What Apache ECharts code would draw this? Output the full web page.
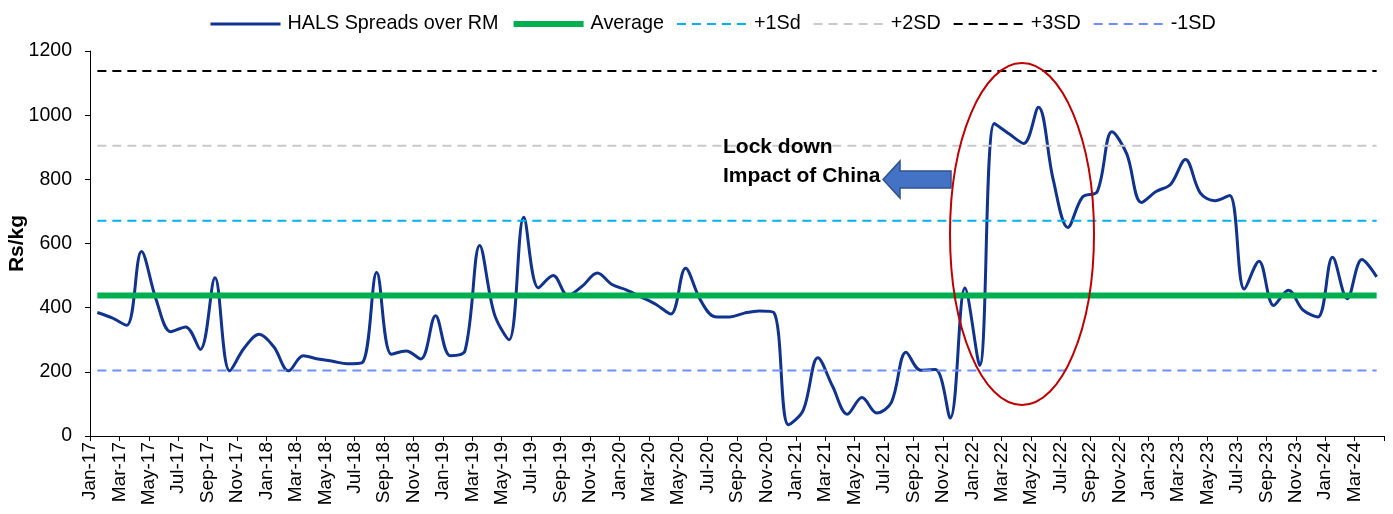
<!DOCTYPE html>
<html>
<head>
<meta charset="utf-8">
<script src="https://cdn.jsdelivr.net/npm/echarts@6/dist/echarts.min.js"></script>
<style>
html,body{margin:0;padding:0;background:#fff;}
#chart{width:1393px;height:514px;}
</style>
</head>
<body>
<div id="chart"></div>
<script>
// Month categories (Jan-17 .. Apr-24)
const months = [
 'Jan-17','Feb-17','Mar-17','Apr-17','May-17','Jun-17','Jul-17','Aug-17','Sep-17','Oct-17','Nov-17','Dec-17',
 'Jan-18','Feb-18','Mar-18','Apr-18','May-18','Jun-18','Jul-18','Aug-18','Sep-18','Oct-18','Nov-18','Dec-18',
 'Jan-19','Feb-19','Mar-19','Apr-19','May-19','Jun-19','Jul-19','Aug-19','Sep-19','Oct-19','Nov-19','Dec-19',
 'Jan-20','Feb-20','Mar-20','Apr-20','May-20','Jun-20','Jul-20','Aug-20','Sep-20','Oct-20','Nov-20','Dec-20',
 'Jan-21','Feb-21','Mar-21','Apr-21','May-21','Jun-21','Jul-21','Aug-21','Sep-21','Oct-21','Nov-21','Dec-21',
 'Jan-22','Feb-22','Mar-22','Apr-22','May-22','Jun-22','Jul-22','Aug-22','Sep-22','Oct-22','Nov-22','Dec-22',
 'Jan-23','Feb-23','Mar-23','Apr-23','May-23','Jun-23','Jul-23','Aug-23','Sep-23','Oct-23','Nov-23','Dec-23',
 'Jan-24','Feb-24','Mar-24','Apr-24'
];

// HALS Spreads over RM (Rs/kg)
const halsSpread = [
 385, 368, 345, 575, 425, 325, 340, 270, 493, 203, 275, 317,
 278, 203, 250, 240, 233, 225, 228, 510, 255, 265, 240, 375,
 250, 265, 594, 380, 300, 682, 462, 500, 438, 468, 508, 472,
 455, 433, 410, 380, 523, 425, 372, 371, 383, 390, 385, 35,
 80, 244, 155, 68, 120, 72, 105, 261, 205, 207, 56, 461,
 220, 974, 942, 912, 1025, 800, 650, 745, 762, 948, 880, 728,
 762, 785, 862, 758, 733, 750, 458, 545, 407, 454, 392, 371,
 557, 428, 550, 496
];

// Reference levels
const averageLevel = 437.6;
const plus1SD = 671;
const plus2SD = 904.5;
const plus3SD = 1138;
const minus1SD = 204.2;

const seriesNames = ['HALS Spreads over RM','Average','+1Sd','+2SD','+3SD','-1SD'];
const legendWidths = [3, 6, 2, 2, 2, 2];

// build [x, y] pairs: point i sits in the middle of month slot i
const halsData = halsSpread.map((v, i) => [i + 0.5, v]);
const flat = v => [[0.5, v], [months.length - 0.5, v]];

const chart = echarts.init(document.getElementById('chart'), null, {renderer: 'canvas'});
const FONT = 'Liberation Sans, Arial, sans-serif';

function dashed(name, level, color) {
  return {
    name: name, type: 'line', data: flat(level), symbol: 'none', silent: true,
    lineStyle: {color: color, width: 2, type: [9, 6]},
    itemStyle: {color: color}
  };
}

const option = {
  backgroundColor: '#ffffff',
  animation: false,
  textStyle: {fontFamily: FONT, color: '#000'},
  legend: {
    data: seriesNames.map((n, i) => ({name: n, lineStyle: {width: legendWidths[i]}})),
    top: 9,
    left: 204,
    itemWidth: 70,
    itemHeight: 14,
    itemGap: 12,
    itemStyle: {opacity: 0},
    textStyle: {fontSize: 19.8, color: '#000', fontFamily: FONT, padding: [0, 0, 0, 2]}
  },
  grid: {left: 90, right: 9, top: 51, bottom: 78, containLabel: false, outerBoundsMode: 'none'},
  xAxis: {
    type: 'value',
    min: 0,
    max: months.length,
    interval: 2,
    axisLine: {show: true, onZero: false, lineStyle: {color: '#000', width: 1}},
    axisTick: {show: true, inside: false, length: 5, lineStyle: {color: '#000'}},
    splitLine: {show: false},
    axisLabel: {
      rotate: 90,
      margin: 6,
      fontSize: 19,
      color: '#000',
      fontFamily: FONT,
      formatter: v => months[v] || ''
    }
  },
  yAxis: {
    type: 'value',
    min: 0,
    max: 1200,
    interval: 200,
    name: 'Rs/kg',
    nameLocation: 'middle',
    nameGap: 62,
    nameMoveOverlap: false,
    nameTextStyle: {fontSize: 21, fontWeight: 'bold', color: '#000', fontFamily: FONT},
    axisLine: {show: true, lineStyle: {color: '#000', width: 1}},
    axisTick: {show: true, inside: false, length: 5, lineStyle: {color: '#000'}},
    splitLine: {show: false},
    axisLabel: {fontSize: 19.5, color: '#000', margin: 18, fontFamily: FONT, formatter: v => String(v)}
  },
  series: [
    {
      name: seriesNames[0], type: 'line', data: halsData, smooth: 0.35, symbol: 'none',
      lineStyle: {color: '#0F338E', width: 3}, itemStyle: {color: '#0F338E'}, z: 2
    },
    {
      name: seriesNames[1], type: 'line', data: flat(averageLevel), symbol: 'none', silent: true,
      lineStyle: {color: '#00B050', width: 6}, itemStyle: {color: '#00B050'}, z: 3
    },
    dashed(seriesNames[2], plus1SD, '#00B0F0'),
    dashed(seriesNames[3], plus2SD, '#C9C9C9'),
    dashed(seriesNames[4], plus3SD, '#000000'),
    dashed(seriesNames[5], minus1SD, '#6F8FFF')
  ],
  graphic: [
    {
      type: 'ellipse', z: 100,
      shape: {cx: 1022, cy: 234, rx: 72, ry: 171},
      style: {fill: 'none', stroke: '#C00000', lineWidth: 2}
    },
    {
      type: 'text', z: 100, left: 723, top: 137,
      style: {text: 'Lock down', font: 'bold 21px ' + FONT, fill: '#000'}
    },
    {
      type: 'text', z: 100, left: 723, top: 166,
      style: {text: 'Impact of China', font: 'bold 21px ' + FONT, fill: '#000'}
    },
    {
      type: 'polygon', z: 100,
      shape: {points: [[883, 179.5], [900, 161], [900, 171], [951, 171], [951, 188], [900, 188], [900, 198]]},
      style: {fill: '#4472C4', stroke: '#2F528F', lineWidth: 1.5}
    }
  ]
};
chart.setOption(option);
</script>
</body>
</html>
